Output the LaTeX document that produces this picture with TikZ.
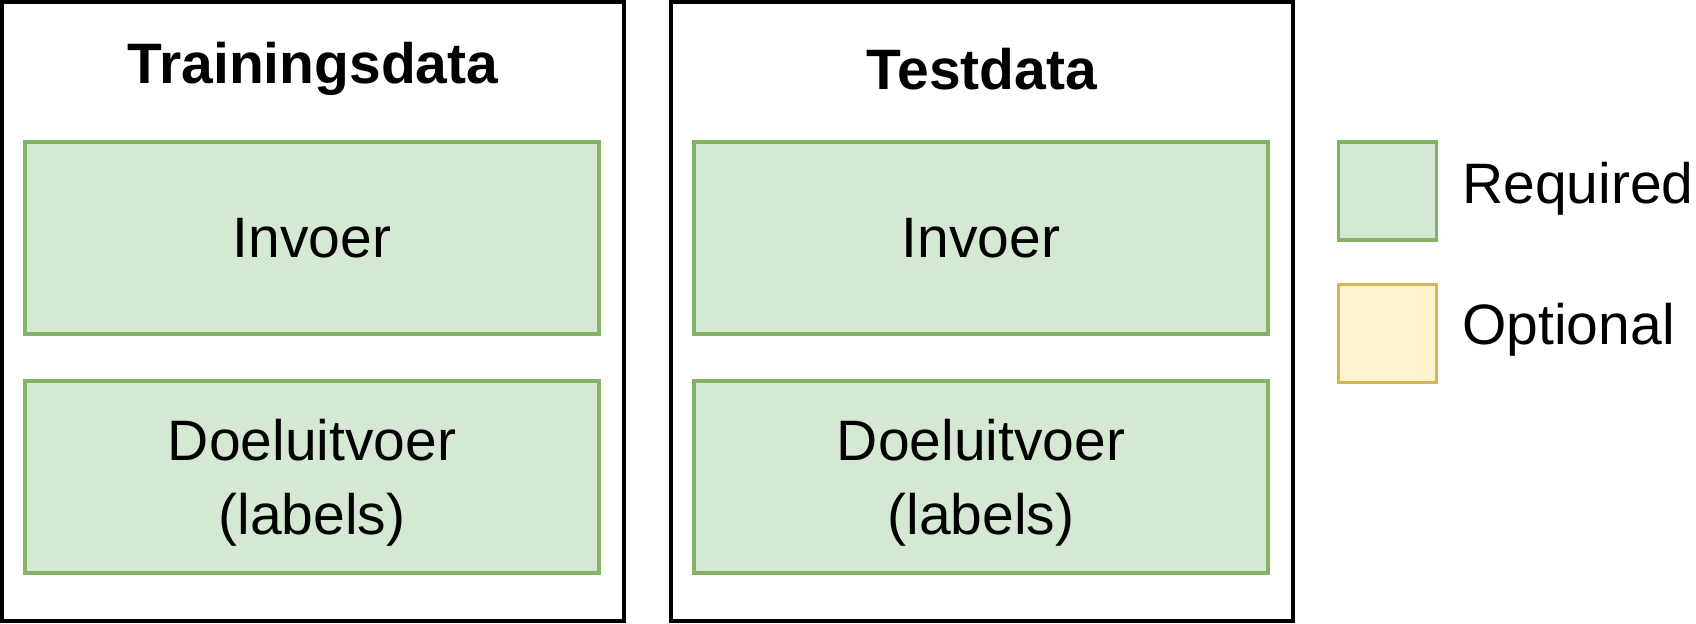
\documentclass[tikz,border=0pt]{standalone}
\usepackage{fontspec}
\setmainfont{Liberation Sans}
\usetikzlibrary{positioning}
\usepackage{xcolor}
\definecolor{reqfill}{HTML}{D5E8D4}
\definecolor{reqdraw}{HTML}{82B366}
\definecolor{optfill}{HTML}{FFF2CC}
\definecolor{optdraw}{HTML}{D6B656}

\tikzset{
  databox/.style={draw=black, line width=1.6pt, minimum width=311pt, minimum height=309.5pt, inner sep=0pt},
  title/.style={font=\fontsize{28.5}{37}\selectfont\bfseries},
  reqbox/.style={draw=reqdraw, fill=reqfill, line width=1.6pt, minimum width=287pt, minimum height=96pt,
    inner sep=0pt, align=center, font=\fontsize{28.5}{37}\selectfont},
  swatch/.style={draw=#1draw, fill=#1fill, line width=1.6pt, minimum size=49pt, inner sep=0pt},
  legendtext/.style={anchor=west, inner sep=0pt, font=\fontsize{28.5}{37}\selectfont}
}

\begin{document}
\begin{tikzpicture}[x=0.5pt, y=-0.5pt]
  \useasboundingbox (0,0) rectangle (1696,624);
  % trainingsdata
  \node[databox] (train) at (313,311.5) {};
  \node[title] (traintitle) at (313,69) {Trainingsdata};
  \node[reqbox] (traininvoer) at (312,238) {Invoer};
  \node[reqbox, text depth=0pt] (traindoel) at (312,477) {Doeluitvoer\\(labels)};
  % testdata
  \node[databox] (test) at (982,311.5) {};
  \node[title] (testtitle) at (982,69) {Testdata};
  \node[reqbox] (testinvoer) at (981,238) {Invoer};
  \node[reqbox, text depth=0pt] (testdoel) at (981,477) {Doeluitvoer\\(labels)};
  % legend
  \node[swatch=req] (reqsq) at (1387.5,191) {};
  \node[swatch=opt] (optsq) at (1387.5,333.5) {};
  \node[legendtext] (reqtext) at (1462,189) {Required};
  \node[legendtext] (opttext) at (1462,330) {Optional};
\end{tikzpicture}
\end{document}
